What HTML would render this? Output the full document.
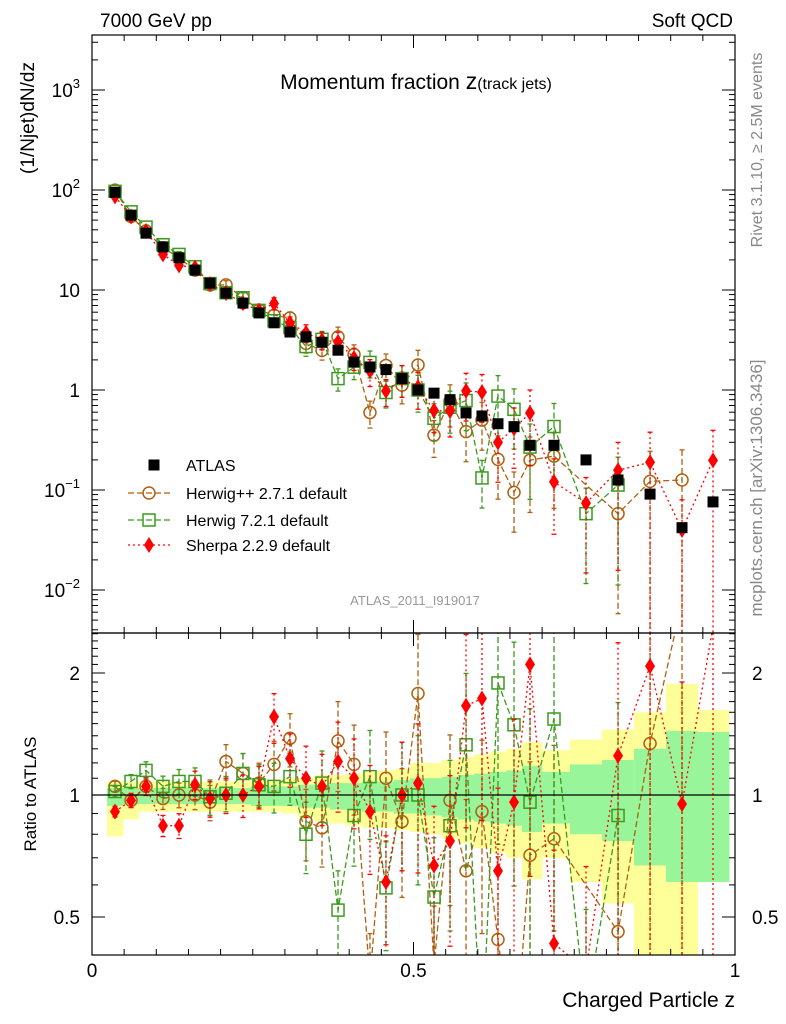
<!DOCTYPE html>
<html><head><meta charset="utf-8"><style>
html,body{margin:0;background:#fff;width:786px;height:1024px;overflow:hidden;}
svg{display:block;font-family:"Liberation Sans",sans-serif;}
</style></head><body>
<svg id="c" width="786" height="1024" xmlns="http://www.w3.org/2000/svg">
<defs>
<clipPath id="cm"><rect x="92" y="35" width="643" height="598"/></clipPath>
<clipPath id="cr"><rect x="92" y="633" width="643" height="322"/></clipPath>
</defs>
<g id="bands" clip-path="url(#cr)"></g>
<g id="marks"></g>
<g id="axes"></g>
<rect x="92" y="35" width="643" height="598" fill="none" stroke="#000" stroke-width="1.2"/>
<rect x="92" y="633" width="643" height="322" fill="none" stroke="#000" stroke-width="1.2"/>
<line x1="92" y1="795" x2="735" y2="795" stroke="#000" stroke-width="1.2"/>
<text x="100" y="27" font-size="19">7000 GeV pp</text>
<text x="733" y="27" font-size="19" text-anchor="end">Soft QCD</text>
<text x="416" y="89" font-size="21" text-anchor="middle">Momentum fraction <tspan font-size="23">z</tspan><tspan font-size="16">(track jets)</tspan></text>
<text transform="translate(34,118) rotate(-90)" font-size="19" text-anchor="middle">(1/Njet)dN/dz</text>
<text transform="translate(36,794) rotate(-90)" font-size="17" text-anchor="middle">Ratio to ATLAS</text>
<text x="735" y="1007" font-size="21" text-anchor="end">Charged Particle z</text>
<text transform="translate(762,150) rotate(-90)" font-size="16" fill="#888" text-anchor="middle">Rivet 3.1.10, ≥ 2.5M events</text>
<text transform="translate(762,488) rotate(-90)" font-size="17" fill="#888" text-anchor="middle">mcplots.cern.ch [arXiv:1306.3436]</text>
<text x="415" y="605" font-size="13" fill="#999" text-anchor="middle">ATLAS_2011_I919017</text>
<g id="legend"></g>
</svg>
<script>
const zCenters=[0.0358,0.0607,0.0840,0.1104,0.1353,0.1602,0.1835,0.2084,0.2348,0.2597,0.2831,0.3079,0.3328,0.3577,0.3826,0.4075,0.4323,0.4572,0.4821,0.5070,0.5319,0.5568,0.5817,0.6065,0.6314,0.6563,0.6812,0.7185,0.7683,0.8181,0.8679,0.9176,0.9658];
const atlasVals=[95,56,37,27,21,15.8,11.7,9.3,7.4,5.9,4.7,3.8,3.4,3.0,2.5,1.9,1.7,1.6,1.3,1.0,0.93,0.8,0.59,0.55,0.46,0.43,0.28,0.28,0.2,0.126,0.091,0.042,0.076];
const hppRatio=[1.05,0.97,1.05,0.98,1.0,1.0,0.96,1.21,1.13,1.07,1.19,1.38,0.86,0.83,1.36,1.19,0.35,1.1,0.86,1.78,0.38,0.97,0.65,0.91,0.44,0.22,0.71,0.78,null,0.46,1.34,3.0,null];
const h7Ratio=[1.02,1.08,1.15,1.05,1.08,1.08,0.99,1.01,1.13,1.06,1.05,1.11,0.8,1.07,0.52,0.89,1.11,0.59,1.0,1.0,0.56,0.84,1.33,0.24,1.89,1.49,0.96,1.54,0.29,0.89,null,null,null];
const sherpaRatio=[0.91,0.97,1.05,0.84,0.84,1.06,0.98,1.0,1.0,1.05,1.56,1.23,1.1,1.05,1.21,1.1,0.91,0.61,1.0,1.07,0.67,0.77,1.66,1.73,0.65,0.96,2.1,0.43,0.37,1.25,2.08,0.95,2.6];
const mcRelErr=[0.03,0.04,0.05,0.06,0.07,0.08,0.1,0.1,0.12,0.12,0.14,0.15,0.2,0.2,0.25,0.25,0.3,0.3,0.35,0.4,0.4,0.45,0.5,0.5,0.6,0.6,0.7,0.7,0.8,0.9,1,1,1];
const yelHi=[1.08,1.08,1.08,1.08,1.08,1.08,1.08,1.08,1.08,1.09,1.09,1.1,1.1,1.12,1.12,1.13,1.14,1.15,1.16,1.2,1.2,1.22,1.24,1.26,1.28,1.3,1.35,1.29,1.37,1.45,1.6,1.88,1.62];
const yelLo=[0.79,0.87,0.91,0.91,0.91,0.91,0.91,0.91,0.91,0.91,0.91,0.9,0.88,0.86,0.85,0.84,0.83,0.83,0.82,0.81,0.8,0.78,0.76,0.74,0.72,0.7,0.62,0.7,0.61,0.54,0.35,0.35,0.66];
const grnHi=[1.04,1.04,1.04,1.04,1.04,1.04,1.04,1.04,1.04,1.05,1.05,1.05,1.06,1.06,1.07,1.07,1.08,1.08,1.09,1.1,1.1,1.11,1.12,1.13,1.14,1.15,1.18,1.14,1.19,1.22,1.3,1.44,1.43];
const grnLo=[0.94,0.95,0.95,0.95,0.95,0.95,0.95,0.95,0.95,0.94,0.94,0.94,0.93,0.93,0.92,0.92,0.91,0.91,0.9,0.9,0.89,0.88,0.87,0.86,0.85,0.84,0.81,0.85,0.8,0.77,0.67,0.61,0.61];
const mainTickLabels=["10^3","10^2","10","1","10^-1","10^-2"];
const mainTickVals=[1000,100,10,1,0.1,0.01];
const ratioTickVals=[2,1,0.5];
const xTickVals=[0,0.5,1];

const NS="http://www.w3.org/2000/svg";
const X=z=>92+z*643;
const YM=v=>390-100*Math.log10(v);
const YR=r=>795-122*Math.log2(r);
function mk(tag,attrs,parent){const e=document.createElementNS(NS,tag);for(const k in attrs)e.setAttribute(k,attrs[k]);parent.appendChild(e);return e;}
const marks=document.getElementById('marks'),axes=document.getElementById('axes'),bands=document.getElementById('bands');

for(let i=0;i<zCenters.length;i++){
  const l=i==0?X(zCenters[0])-8:(X(zCenters[i-1])+X(zCenters[i]))/2;
  const r=i==zCenters.length-1?X(zCenters[i])+16:(X(zCenters[i])+X(zCenters[i+1]))/2;
  let e=mk('rect',{x:l,y:YR(yelHi[i]),width:r-l+0.5,height:YR(Math.max(yelLo[i],0.39))-YR(yelHi[i]),fill:'#ffff99'},bands);
  
  
  e=mk('rect',{x:l,y:YR(grnHi[i]),width:r-l+0.5,height:YR(grnLo[i])-YR(grnHi[i]),fill:'#99f599'},bands);
  
  
}

function tick(x1,y1,x2,y2){mk('line',{x1,y1,x2,y2,stroke:'#000','stroke-width':1},axes);}
for(let d=-3;d<=3;d++)for(let m=1;m<10;m++){const v=m*Math.pow(10,d);const y=YM(v);if(y<35||y>633)continue;const L=m==1?13:6;tick(92,y,92+L,y);tick(735,y,735-L,y);}
for(let r=0.4;r<=2.55;r=+(r+0.1).toFixed(2)){ if(r>1&&Math.abs(r*10-Math.round(r*10))>1e-6)continue;const y=YR(r);if(y<633||y>955)continue;const maj=[0.5,1,2].some(t=>Math.abs(t-r)<1e-6);const L=maj?13:6;tick(92,y,92+L,y);tick(735,y,735-L,y);}
for(let k=0;k<=20;k++){const x=X(k*0.05);const L=k%10==0?13:6;tick(x,633,x,633-L);tick(x,955,x,955-L);tick(x,35,x,35+L);tick(x,633,x,633+L);}
mainTickVals.forEach((v,i)=>{const lab=mainTickLabels[i];const t=mk('text',{x:80,y:YM(v)+7,'font-size':19,'text-anchor':'end'},axes);
  
  
  if(lab.includes('^')){const [b,e]=lab.split('^');t.textContent=b;const s=mk('tspan',{dy:-9,'font-size':13},t);s.textContent=e.replace('-','−');}else t.textContent=lab;});
ratioTickVals.forEach(v=>{[ [80,'end'],[752,'start'] ].forEach(p=>{const t=mk('text',{x:p[0],y:YR(v)+7,'font-size':19,'text-anchor':p[1]},axes);t.textContent=String(v);
  
  });});
xTickVals.forEach(v=>{const t=mk('text',{x:X(v),y:977,'font-size':19,'text-anchor':'middle'},axes);t.textContent=String(v);
  
  });

const series=[
 {name:'herwigpp',ratio:hppRatio,col:'#b0600f',dash:'6,3',mark:'circle'},
 {name:'herwig7',ratio:h7Ratio,col:'#3c9a1e',dash:'6,3',mark:'square'},
 {name:'sherpa',ratio:sherpaRatio,col:'#ff0000',dash:'2,3',mark:'diamond'}];
function marker(type,x,y,col,g){
  let e;
  if(type=='circle')e=mk('circle',{cx:x,cy:y,r:6,fill:'none',stroke:col,'stroke-width':1.5},g);
  else if(type=='square')e=mk('rect',{x:x-6,y:y-6,width:12,height:12,fill:'none',stroke:col,'stroke-width':1.5},g);
  else if(type=='diamond')e=mk('polygon',{points:`${x},${y-8} ${x+5},${y} ${x},${y+8} ${x-5},${y}`,fill:col},g);
  else e=mk('rect',{x:x-5.5,y:y-5.5,width:11,height:11,fill:'#000'},g);
  return e;
}
series.forEach(s=>{
  ['main','ratio'].forEach(panel=>{
    const g=mk('g',{'clip-path':panel=='main'?'url(#cm)':'url(#cr)'},marks);
    
    
    const bottom=panel=='main'?640:960, top=panel=='main'?30:628;
    const clampY=y=>Math.max(top,Math.min(bottom,y));
    const Y=panel=='main'?(i=>YM(atlasVals[i]*s.ratio[i])):(i=>YR(s.ratio[i]));
    const pts=[];
    s.ratio.forEach((r,i)=>{if(r==null)return;pts.push(X(zCenters[i])+','+Y(i));});
    const pl=mk('polyline',{points:pts.join(' '),fill:'none',stroke:s.col,'stroke-width':1.3,'stroke-dasharray':s.dash},g);
    
    
    s.ratio.forEach((r,i)=>{if(r==null)return;const x=X(zCenters[i]);const e=mcRelErr[i];
      const v=panel=='main'?atlasVals[i]*r:r;
      const hi=v*(1+e),lo=v*(1-e);
      const f=panel=='main'?YM:YR;
      const yh=clampY(f(hi)),yl=lo>0?clampY(f(lo)):bottom;
      const eb=mk('line',{x1:x,y1:yh,x2:x,y2:yl,stroke:s.col,'stroke-width':1.3,'stroke-dasharray':s.dash},g);
      
      
      mk('line',{x1:x-2.5,y1:yh,x2:x+2.5,y2:yh,stroke:s.col,'stroke-width':1.3},g);
      if(lo>0)mk('line',{x1:x-2.5,y1:yl,x2:x+2.5,y2:yl,stroke:s.col,'stroke-width':1.3},g);
      const yc=clampY(Y(i));
      const m=marker(s.mark,x,yc==Y(i)?yc:Y(i)<top?top-20:bottom+20,s.col,g);
      
      });
  });
});
{const g=mk('g',{'clip-path':'url(#cm)'},marks);
 
 
 atlasVals.forEach((v,i)=>{const m=marker('atlas',X(zCenters[i]),YM(v),'#000',g);
  
  });}

const leg=document.getElementById('legend');
const legNames=['ATLAS','Herwig++ 2.7.1 default','Herwig 7.2.1 default','Sherpa 2.2.9 default'];
const legY=[465,493,520,545];
legNames.forEach((n,i)=>{const y=legY[i];const g=mk('g',{},leg);
  
  
  if(i>0){const s=series[i-1];mk('line',{x1:128,y1:y,x2:170,y2:y,stroke:s.col,'stroke-width':1.3,'stroke-dasharray':s.dash},g);marker(s.mark,149,y,s.col,g);}
  else marker('atlas',154,y,'#000',g);
  const t=mk('text',{x:186,y:y+6,'font-size':16},g);t.textContent=n;});
</script>
</body></html>
